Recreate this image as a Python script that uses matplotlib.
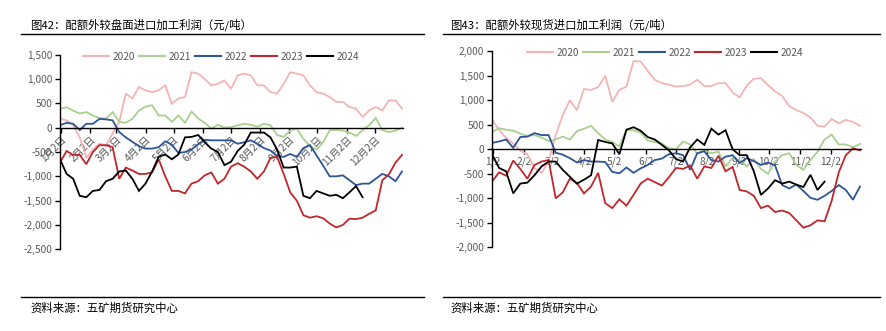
import matplotlib
matplotlib.use("Agg")
import matplotlib.pyplot as plt
from matplotlib.lines import Line2D
from matplotlib.ticker import FuncFormatter

plt.rcParams['font.family'] = ['Noto Sans CJK SC', 'DejaVu Sans']
plt.rcParams['axes.unicode_minus'] = True

# ---------------- data ----------------
years = ["2020", "2021", "2022", "2023", "2024"]
colors = ["#F4B4B6", "#A9D08E", "#2E5597", "#C0272D", "#000000"]

# weekly sample positions (day of year)
week_days = list(range(0, 365, 7))

# 图42 配额外较盘面进口加工利润
futures_2020 = [185, 150, 50, -200, -620, -450, -330, -360, -120, 115, 700, 600, 835, 770, 730, 770, 870, 490,
                600, 630, 1140, 1110, 1000, 870, 900, 970, 800, 1075, 1110, 1075, 870, 870, 730, 700, 900, 1140,
                1110, 1075, 870, 730, 700, 630, 530, 530, 425, 390, 220, 355, 425, 355, 560, 560, 390]
futures_2021 = [390, 420, 350, 290, 320, 250, 200, 190, 320, 120, 100, 180, 350, 430, 460, 250, 250, 120,
                250, 100, 330, 190, 100, -20, 60, 0, 10, 50, 80, 60, 20, 80, 50, -150, -190, -60, -20, -230,
                -380, -450, -300, -50, -50, -60, -100, -170, -50, 50, 200, -50, -90, -60, 0]
futures_2022 = [50, 100, 80, -50, 80, 80, 180, 170, 150, -90, -200, -290, -380, -430, -430, -400, -280, -350,
                -520, -500, -450, -340, -250, -260, -260, -260, -260, -330, -300, -260, -330, -420, -470, -580,
                -600, -540, -600, -420, -360, -570, -780, -1000, -1000, -980, -1080, -1180, -1150, -1150, -1050,
                -950, -1000, -1100, -900]
futures_2023 = [-720, -480, -560, -560, -750, -500, -360, -360, -400, -1050, -820, -880, -950, -950, -920, -650,
                -1000, -1300, -1300, -1350, -1150, -1100, -980, -920, -1150, -1050, -800, -730, -800, -900, -1050,
                -900, -620, -600, -950, -1330, -1500, -1800, -1850, -1820, -1860, -1970, -2050, -2000, -1870,
                -1880, -1850, -1770, -1700, -1080, -960, -720, -560]
futures_2024 = [-650, -950, -1050, -1400, -1430, -1300, -1280, -1100, -1050, -900, -880, -1050, -1300, -1150,
                -900, -600, -550, -650, -550, -200, -190, -150, -300, -430, -500, -770, -700, -480, -350, -100,
                -100, -100, -200, -450, -820, -820, -800, -1400, -1450, -1300, -1350, -1400, -1380, -1450, -1330,
                -1200, -1430]

# 图43 配额外较现货进口加工利润
spot_2020 = [600, 400, 230, 120, -30, -100, -380, -480, -250, 290, 700, 1000, 800, 1230, 1210, 1270, 1500, 970,
             1210, 1280, 1800, 1790, 1600, 1420, 1350, 1320, 1280, 1290, 1320, 1420, 1290, 1290, 1350, 1350, 1160,
             1060, 1300, 1440, 1450, 1310, 1180, 1090, 880, 800, 740, 650, 480, 460, 620, 530, 600, 560, 480]
spot_2021 = [350, 430, 400, 380, 320, 270, 290, 240, 170, 200, 260, 200, 370, 420, 480, 330, 200, 150, 60, 400,
             390, 340, 180, 150, 120, 20, 0, 160, 100, -90, -20, -80, -50, -350, -180, -220, -350, -200, -400,
             -500, -250, -120, -80, -320, -420, -220, -50, 200, 300, 100, 100, 40, 110]
spot_2022 = [130, 160, 200, 30, 250, 260, 330, 290, 290, -70, -110, -180, -270, -220, -250, -250, -260, -460,
             -490, -370, -480, -390, -320, -220, -190, -100, -80, -120, -420, -80, -40, -220, -250, -150, -120,
             -280, -180, -240, -320, -270, -330, -730, -800, -720, -850, -990, -1030, -950, -850, -730, -830,
             -1030, -760]
spot_2023 = [-660, -470, -540, -230, -400, -600, -320, -250, -220, -1000, -880, -600, -690, -900, -760, -480,
             -1100, -1200, -1020, -1150, -930, -700, -600, -670, -740, -570, -380, -400, -330, -600, -350, -380,
             -130, -450, -360, -830, -860, -950, -1200, -1150, -1280, -1250, -1300, -1450, -1600, -1550, -1450,
             -1470, -1050, -470, -120, 20, -20]
spot_2024 = [-100, -380, -450, -900, -700, -680, -530, -350, -250, -250, -420, -560, -700, -620, -530, 190, 150,
             120, -100, 400, 450, 380, 250, 200, 90, -20, -200, -250, 40, 200, 90, 420, 300, 390, 0, -120, -120,
             -450, -930, -800, -630, -700, -660, -720, -770, -520, -830, -660]

tick_days = [1, 32, 60, 91, 121, 152, 182, 213, 244, 274, 305, 335]
left_ticklabels = [f"{m}月2日" for m in range(1, 13)]
right_ticklabels = [f"{m}/2" for m in range(1, 13)]

left_title = "图42：配额外较盘面进口加工利润（元/吨）"
right_title = "图43：配额外较现货进口加工利润（元/吨）"
source = "资料来源：五矿期货研究中心"

# ---------------- figure ----------------
W, H = 886, 331
fig = plt.figure(figsize=(W / 100, H / 100), dpi=100)


def fx(px):
    return px / W


def fy(py):
    return 1 - py / H


gray = "#595959"
fmt = FuncFormatter(lambda v, p: f"{v:,.0f}")


def setup(ax, ylim, yticks):
    ax.set_xlim(0, 365)
    ax.set_ylim(*ylim)
    ax.set_yticks(yticks)
    ax.yaxis.set_major_formatter(fmt)
    for s in ["top", "right"]:
        ax.spines[s].set_visible(False)
    ax.spines["bottom"].set_position(("data", 0))
    ax.spines["bottom"].set_linewidth(1.0)
    ax.spines["left"].set_linewidth(1.0)
    ax.set_xticks(tick_days)
    ax.tick_params(axis="y", direction="out", length=3.5, width=1.0, labelsize=7.3,
                   labelcolor=gray, pad=2)
    ax.tick_params(axis="x", direction="out", length=3.5, width=1.0, labelsize=7.3,
                   labelcolor=gray, pad=1.5)
    ax.set_facecolor("none")


# left chart
axL = fig.add_axes([fx(60), fy(249.3), fx(403) - fx(60), fy(54.7) - fy(249.3)])
setup(axL, (-2500, 1500), list(range(-2500, 1501, 500)))
left_series = [futures_2020, futures_2021, futures_2022, futures_2023, futures_2024]
for vals, c in zip(left_series, colors):
    axL.plot(week_days[:len(vals)], vals, color=c, lw=1.3, solid_joinstyle="miter")
axL.set_xticklabels(left_ticklabels, rotation=45, ha="right", rotation_mode="anchor")

# right chart
axR = fig.add_axes([fx(492), fy(247.3), fx(861) - fx(492), fy(51.3) - fy(247.3)])
setup(axR, (-2000, 2000), list(range(-2000, 2001, 500)))
right_series = [spot_2020, spot_2021, spot_2022, spot_2023, spot_2024]
for vals, c in zip(right_series, colors):
    axR.plot(week_days[:len(vals)], vals, color=c, lw=1.3, solid_joinstyle="miter")
axR.set_xticklabels(right_ticklabels)

# legends
handles = [Line2D([0], [0], color=c, lw=1.5) for c in colors]
fig.legend(handles, years, loc="center", bbox_to_anchor=(fx(221), fy(57)), ncol=5, frameon=False,
           fontsize=7.3, handlelength=2.6, handletextpad=0.35, columnspacing=0.35, labelcolor=gray)
fig.legend(handles, years, loc="center", bbox_to_anchor=(fx(665), fy(52.5)), ncol=5, frameon=False,
           fontsize=7.3, handlelength=2.6, handletextpad=0.35, columnspacing=0.35, labelcolor=gray)

# titles, rules, sources
fig.text(fx(30), fy(24.5), left_title, fontsize=8.2, va="center", ha="left", color="#000000")
fig.text(fx(450), fy(24.5), right_title, fontsize=8.2, va="center", ha="left", color="#000000")
for x0, x1 in [(21, 424), (443, 880)]:
    fig.add_artist(Line2D([fx(x0), fx(x1)], [fy(34), fy(34)], color="black", lw=1.0))
    fig.add_artist(Line2D([fx(x0), fx(x1)], [fy(297.3), fy(297.3)], color="black", lw=1.0))
fig.text(fx(30), fy(308.5), source, fontsize=8.2, va="center", ha="left", color="#000000")
fig.text(fx(450), fy(308.5), source, fontsize=8.2, va="center", ha="left", color="#000000")

fig.savefig("out.png", dpi=100)
